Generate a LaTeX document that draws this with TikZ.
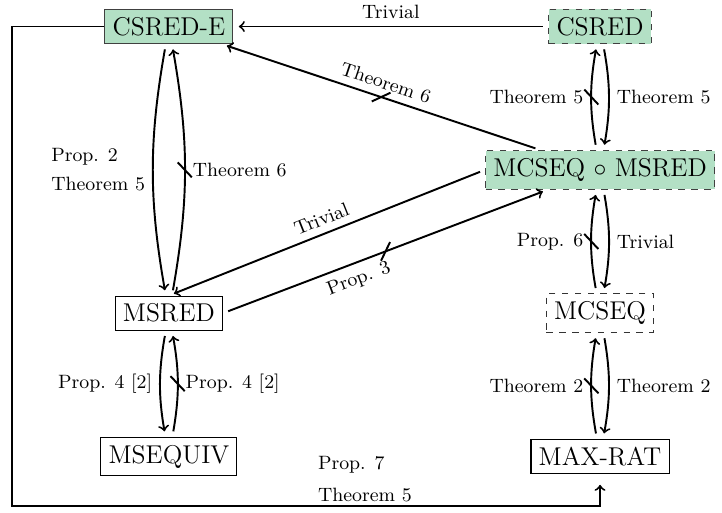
\documentclass[tikz,border=0pt]{standalone}
\usepackage{tikz}
\usetikzlibrary{arrows,decorations.markings}
\definecolor{reduc}{RGB}{179,224,197}
\tikzstyle{every picture}=[shorten >=2.5pt, shorten <=2.5pt, node distance=2.35cm,%
	>=to, bend angle=10, auto, line width=0.9pt]
\tikzstyle{pb}=[draw, line width=0.5pt, font=\large, inner sep=3.6pt]
\tikzstyle{hard}=[pb, fill=reduc, draw=black!75]
\tikzstyle{conj}=[pb, dashed, draw=black!80]
\tikzstyle{lbl}=[font=\small]
\tikzstyle{neg}=[postaction={decorate,decoration={markings,%
	mark=at position 0.5 with {\draw[-,shorten >=0pt,shorten <=0pt] (-3.5pt,-3.3pt) -- (3.5pt,3.3pt);}}}]

\begin{document}
\begin{tikzpicture}
	\useasboundingbox (0,0) rectangle (11.84,-8.4);
	\node[hard] (CSREDE) at (2.77,-0.435) {CSRED-E};
	\node[hard,dashed] (CSRED) [right of=CSREDE, node distance=7.07cm] {CSRED};
	\node[hard,dashed] (MCSMS) [below of=CSRED] {MCSEQ $\circ$ MSRED};
	\node[conj] (MCSEQ) [below of=MCSMS] {MCSEQ};
	\node[pb] (MAXRAT) [below of=MCSEQ] {MAX-RAT};
	\node[pb] (MSRED) [below of=CSREDE, node distance=4.7cm] {MSRED};
	\node[pb] (MSEQUIV) [below of=MSRED] {MSEQUIV};
	\coordinate (corner) at (0.2,-8.3);
	\draw (CSRED) edge[->] node[lbl,above]{Trivial} (CSREDE)
		(MCSMS) edge[->,neg] node[lbl,sloped,above]{Theorem 6} (CSREDE)
		(MCSMS.west) edge[->] node[lbl,sloped,above]{Trivial} (MSRED.north)
		(MSRED.east) edge[->,neg] node[lbl,sloped,below,pos=0.4]{Prop. 3} (MCSMS);
	\draw (CSREDE) edge[->,bend right] node[lbl,swap,align=left]{Prop. 2\\[2.5pt]Theorem 5} (MSRED)
		(MSRED) edge[->,bend right,neg] node[lbl,swap]{Theorem 6} (CSREDE)
		(MSRED) edge[->,bend right] node[lbl,swap]{Prop. 4 [2]} (MSEQUIV)
		(MSEQUIV) edge[->,bend right,neg] node[lbl,swap]{Prop. 4 [2]} (MSRED);
	\draw (MCSMS) edge[->,bend left,neg] node[lbl]{Theorem 5} (CSRED)
		(CSRED) edge[->,bend left] node[lbl]{Theorem 5} (MCSMS)
		(MCSEQ) edge[->,bend left,neg] node[lbl]{Prop. 6} (MCSMS)
		(MCSMS) edge[->,bend left] node[lbl]{Trivial} (MCSEQ)
		(MAXRAT) edge[->,bend left,neg] node[lbl]{Theorem 2} (MCSEQ)
		(MCSEQ) edge[->,bend left] node[lbl]{Theorem 2} (MAXRAT);
	\draw[->,shorten <=0pt,shorten >=5pt] (CSREDE.west) -| (corner)
		-| node[lbl,pos=0.3,above,align=left,inner sep=1.5pt]{Prop. 7\\[4pt]Theorem 5} (MAXRAT.south);
\end{tikzpicture}
\end{document}
